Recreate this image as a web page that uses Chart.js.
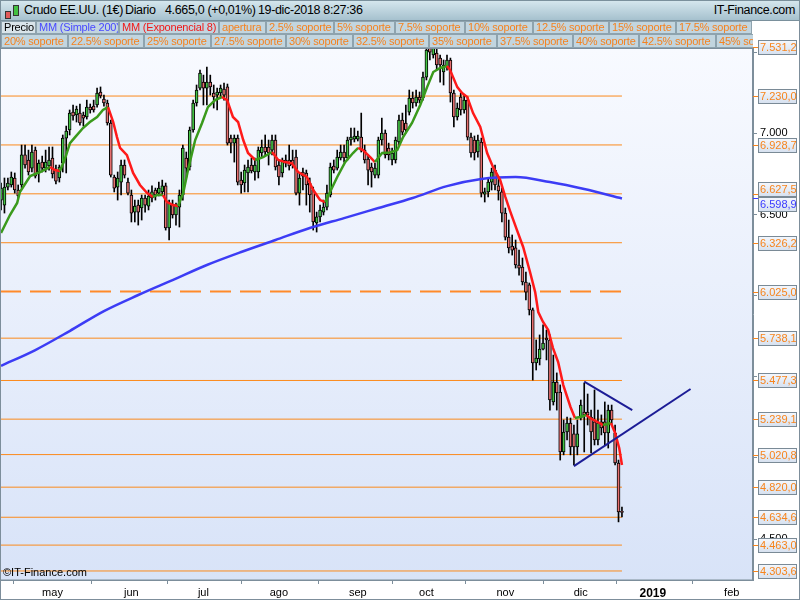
<!DOCTYPE html>
<html>
<head>
<meta charset="utf-8">
<script src="https://cdn.jsdelivr.net/npm/chart.js@4.4.1/dist/chart.umd.min.js"></script>
<style>
body { margin: 0; background: #fff; font-family: "Liberation Sans", Arial, sans-serif; }
#wrap { position: relative; width: 800px; height: 600px; overflow: hidden; }
#chart { position: absolute; left: 0; top: 0; }
#title { position: absolute; left: 0; top: 0; width: 800px; height: 21px; box-sizing: border-box;
  border: 1px solid #7a909c; background: linear-gradient(#d4e6ed, #a6c1ce); font-size: 12.5px; color: #000; }
#title span { position: absolute; top: 2px; white-space: nowrap; letter-spacing: -0.35px; }
.ico i { position: absolute; display: block; box-sizing: border-box; border: 1px solid #333; }
.row { position: absolute; left: 0; width: 753px; overflow: hidden; }
.bx { position: absolute; top: 0; box-sizing: border-box; border: 1px solid #8ea3ae; background: #c2d5df;
  font-size: 11px; padding-left: 2px; white-space: nowrap; overflow: hidden; color: #f5821f; letter-spacing: -0.2px; }
#copy { position: absolute; left: 3px; top: 566px; font-size: 11px; color: #000; }
</style>
</head>
<body>
<div id="wrap">
  <canvas id="chart" width="800" height="600"></canvas>
  <div id="title">
    <span class="ico" style="left:0;top:0">
      <i style="left:4px;top:10px;width:6px;height:8px;background:#e05a5a"></i>
      <i style="left:12px;top:4px;width:6px;height:11px;background:#42c042"></i>
    </span>
    <span style="left:23px">Crudo EE.UU. (1€)</span>
    <span style="left:124px">Diario</span>
    <span style="left:164px">4.665,0 (+0,01%)</span>
    <span style="left:257px">19-dic-2018 8:27:36</span>
    <span style="right:4px">IT-Finance.com</span>
  </div>
  <div class="row" style="top:21px;height:13px">
    <div class="bx" style="left:1px;width:35px;height:13px;line-height:11px;color:#000;background:#d9e4ea">Precio</div>
    <div class="bx" style="left:36px;width:83px;height:13px;line-height:11px;color:#4848ff">MM (Simple 200)</div>
    <div class="bx" style="left:119px;width:100px;height:13px;line-height:11px;color:#f01818">MM (Exponencial 8)</div>
    <div class="bx" style="left:219px;width:47px;height:13px;line-height:11px">apertura</div>
    <div class="bx" style="left:266px;width:68px;height:13px;line-height:11px">2.5% soporte</div>
    <div class="bx" style="left:334px;width:61px;height:13px;line-height:11px">5% soporte</div>
    <div class="bx" style="left:395px;width:70px;height:13px;line-height:11px">7.5% soporte</div>
    <div class="bx" style="left:465px;width:68px;height:13px;line-height:11px">10% soporte</div>
    <div class="bx" style="left:533px;width:76px;height:13px;line-height:11px">12.5% soporte</div>
    <div class="bx" style="left:609px;width:67px;height:13px;line-height:11px">15% soporte</div>
    <div class="bx" style="left:676px;width:76px;height:13px;line-height:11px">17.5% soporte</div>
  </div>
  <div class="row" style="top:34px;height:14px">
    <div class="bx" style="left:1px;width:67px;height:14px;line-height:12px">20% soporte</div>
    <div class="bx" style="left:68px;width:76px;height:14px;line-height:12px">22.5% soporte</div>
    <div class="bx" style="left:144px;width:67px;height:14px;line-height:12px">25% soporte</div>
    <div class="bx" style="left:211px;width:75px;height:14px;line-height:12px">27.5% soporte</div>
    <div class="bx" style="left:286px;width:67px;height:14px;line-height:12px">30% soporte</div>
    <div class="bx" style="left:353px;width:76px;height:14px;line-height:12px">32.5% soporte</div>
    <div class="bx" style="left:429px;width:68px;height:14px;line-height:12px">35% soporte</div>
    <div class="bx" style="left:497px;width:76px;height:14px;line-height:12px">37.5% soporte</div>
    <div class="bx" style="left:573px;width:66px;height:14px;line-height:12px">40% soporte</div>
    <div class="bx" style="left:639px;width:77px;height:14px;line-height:12px">42.5% soporte</div>
    <div class="bx" style="left:716px;width:60px;height:14px;line-height:12px">45% soporte</div>
  </div>
  <div id="copy">©IT-Finance.com</div>
</div>
<script>
// Daily candles, one per weekday, 10-abr-2018 .. 19-dic-2018
var openP = [
  6589,6558,6669,6682,6725,6651,6682,6867,6836,6786, 6897,6762,6823,6786,6799,6848,6774,6725,6817,6971,
  7021,7131,7113,7125,7113,7101,7162,7168,7175,7255, 7212,7187,7064,6731,6669,6700,6805,6700,6620,6515,
  6558,6540,6602,6552,6602,6651,6632,6639,6676,6417, 6558,6497,6546,6620,6848,6793,7021,7187,7279,7316,
  7279,7316,7249,7236,7249,7273,7286,6971,6940,6971, 6712,6694,6756,6805,6762,6762,6879,6916,6916,6897,
  6959,6805,6756,6836,6836,6836,6854,6632,6762,6756, 6694,6651,6448,6485,6515,6546,6620,6799,6786,6848,
  6885,6848,6959,6965,6965,6977,6897,6842,6793,6743, 6743,6959,7002,6910,6836,6836,6947,7082,7064,7131,
  7218,7187,7224,7218,7347,7532,7483,7495,7464,7378, 7409,7452,7249,7101,7224,7144,7205,6977,6959,6885,
  6947,6626,6639,6700,6774,6676,6639,6509,6361,6306, 6294,6189,6176,6084,6066,5912,5585,5610,5671,5739,
  5727,5345,5468,5406,5037,5160,5215,5148,5068,5246, 5283,5283,5252,5222,5111,5222,5222,5154,5295,5154,
  4969,4667
];
var highP = [
  6694,6725,6725,6762,6756,6682,6928,6928,6897,6928, 6916,6836,6860,6897,6916,6916,6805,6805,6990,7045,
  7144,7175,7168,7181,7131,7205,7181,7205,7279,7286, 7236,7205,7082,6743,6762,6836,6836,6725,6651,6589,
  6589,6620,6620,6651,6676,6663,6700,6712,6694,6589, 6589,6571,6651,6928,6885,7039,7205,7298,7390,7359,
  7409,7359,7298,7279,7298,7310,7304,6990,6990,6990, 6762,6805,6836,6848,6848,6916,6959,6990,6959,6990,
  6990,6836,6848,6867,6928,6897,6897,6756,6786,6774, 6725,6669,6515,6558,6589,6682,6817,6836,6897,6928,
  6928,6977,7033,7033,7014,7125,6928,6867,6817,6817, 6977,7094,7021,6940,6910,6977,7113,7125,7175,7267,
  7255,7267,7255,7378,7532,7550,7550,7526,7483,7452, 7483,7464,7267,7187,7249,7236,7224,7002,6984,6990,
  6971,6663,6725,6786,6805,6725,6663,6540,6466,6374, 6343,6281,6232,6146,6078,5924,5727,5758,5820,5788,
  5758,5634,5524,5450,5234,5252,5246,5203,5234,5357, 5462,5394,5295,5419,5295,5265,5345,5326,5326,5203,
  4987,4698
];
var lowP = [
  6528,6509,6651,6669,6632,6595,6663,6786,6743,6762, 6725,6700,6762,6762,6774,6725,6688,6700,6762,6756,
  6990,7082,7070,7051,7045,7088,7125,7131,7162,7218, 7168,7051,6731,6639,6589,6620,6725,6620,6454,6454,
  6435,6466,6515,6528,6577,6589,6614,6620,6404,6343, 6478,6435,6423,6589,6725,6774,7008,7168,7267,7175,
  7175,7236,7156,7144,7224,7205,6928,6879,6823,6682, 6632,6639,6639,6756,6712,6725,6854,6867,6805,6867,
  6774,6682,6731,6793,6774,6786,6620,6558,6651,6558, 6515,6404,6392,6454,6497,6528,6608,6756,6774,6836,
  6823,6836,6928,6947,6953,6885,6817,6682,6669,6725, 6725,6928,6848,6836,6805,6817,6928,6990,7002,7113,
  7156,7168,7187,7205,7329,7452,7464,7390,7316,7298, 7390,7193,7039,7082,7113,7125,6959,6854,6836,6854,
  6608,6577,6608,6651,6651,6589,6454,6343,6263,6250, 6170,6127,6066,5973,5881,5480,5542,5573,5665,5604,
  5295,5326,5295,4987,5019,5111,5019,4957,5019,5234, 5037,5203,5031,5080,5080,5142,5080,5061,5203,4957,
  4606,4636
];
var closeP = [
  6663,6669,6694,6731,6651,6614,6867,6805,6762,6885, 6737,6817,6786,6823,6836,6750,6706,6793,6971,7014,
  7125,7107,7150,7064,7094,7162,7144,7144,7249,7230, 7187,7064,6743,6663,6725,6805,6743,6632,6509,6552,
  6515,6602,6558,6614,6639,6620,6663,6676,6417,6571, 6497,6558,6620,6910,6786,7021,7187,7267,7372,7279,
  7316,7286,7224,7255,7279,7236,6940,6940,6971,6700, 6682,6774,6793,6768,6805,6897,6916,6885,6879,6959,
  6793,6731,6836,6817,6799,6805,6632,6725,6737,6682, 6620,6454,6485,6528,6546,6632,6793,6774,6854,6885,
  6848,6959,6977,6984,6984,6897,6836,6774,6762,6786, 6959,7002,6867,6867,6879,6959,7082,7008,7021,7218,
  7187,7224,7205,7347,7513,7501,7526,7421,7421,7421, 7452,7249,7101,7156,7144,7205,6977,6879,6879,6959,
  6632,6639,6700,6762,6682,6645,6509,6361,6294,6281, 6189,6170,6084,6022,5912,5585,5616,5671,5708,5727,
  5357,5468,5400,5037,5160,5215,5068,5068,5148,5326, 5265,5265,5160,5111,5215,5185,5154,5295,5234,4969,
  4667,4665
];

// MM (Exponencial 8): candle position, value
var emaX = [0,2.6,4.7,5.5,8.5,11.4,14.3,15.7,17.2,18.7, 20.1,21.6,23.9,25.9,28,29.7,31.2,32.7,33.8,34.7,
  36.7,38.5,40.5,42.6,44.3,45.5,47.2,48.4,50.1,51.6, 53.1,54.5,56.6,58.6,60.3,62.4,64.4,65.9,67.6,69.1,
  70.6,72,74.1,76.4,79,80.8,82.8,84.8,86.6,89.2, 91,93,94.5,95.9,98,100.3,102.6,104.1,105.5,107.6,
  109,111.1,113.4,115.5,117.2,119.8,122.2,124.2,126,128, 130,130.9,133,134.4,135.9,137.6,139.7,141.7,143.4,145.5,
  147,148.4,150.4,152.2,154.2,155.7,156.6,158,159.5,160.9, 162.4,163.9,166,167.3,168.8,170.6,171.7,173.8,175.5,176.7,
  177.8,179,180.2,181];
var emaY = [6386,6497,6571,6639,6737,6762,6793,6774,6768,6848, 6940,6977,7033,7070,7101,7144,7162,7070,6977,6910,
  6866,6756,6682,6632,6608,6620,6620,6577,6558,6552, 6632,6774,6959,7064,7162,7205,7224,7205,7101,7070,
  6959,6879,6836,6854,6885,6836,6823,6815,6762,6731, 6651,6589,6577,6639,6731,6823,6879,6910,6897,6854,
  6823,6879,6882,6897,6977,7064,7175,7285,7378,7403, 7415,7390,7285,7248,7224,7125,7039,6879,6793,6712,
  6608,6521,6404,6300,6146,6022,5899,5838,5788,5677, 5591,5449,5314,5246,5252,5265,5246,5222,5203,5209,
  5215,5154,5061,4957];

// MM (Simple 200)
var smaX = [0,10,20,30,40,50,60,70,80,90,100,110,120,130,140,150,160,170,181];
var smaY = [5568,5665,5782,5905,6004,6096,6189,6269,6343,6417,6478,6540,6602,6675,6719,6731,6700,6657,6598.9];

// soporte levels (right-hand labels)
var supportLevels = [7531.2,7230.0,6928.7,6627.5,6326.2,6025.0,5738.1,5477.3,5239.1,5020.8,4820.0,4634.6,4463.0,4303.6];
var dashedLevel = 6025.0;

// triangle drawn on the chart
var triUpperX = [170, 184], triUpperY = [5470, 5295];
var triLowerX = [167, 201], triLowerY = [4950, 5425];

// axis ticks
var xTickValues = [15, 38, 59, 81, 104, 124, 147, 169, 190, 213];
var xTickLabels = ['may', 'jun', 'jul', 'ago', 'sep', 'oct', 'nov', 'dic', '2019', 'feb'];
var yTickValues = [4500, 5000, 5500, 6000, 6500, 7000, 7500];

var FONT = '"Liberation Sans", Arial, sans-serif';
Chart.defaults.font.family = FONT;

function fmt(v, d) {
  var s = v.toFixed(d).split('.');
  var whole = s[0].replace(/\B(?=(\d{3})+(?!\d))/g, '.');
  return d ? whole + ',' + s[1] : whole;
}

var lastIdx = closeP.length - 1;
var xMin = -0.3, xMax = 219.2;

var wickData = closeP.map(function (c, i) { return { x: i, y: [lowP[i], highP[i]] }; });
var bodyData = closeP.map(function (c, i) { return { x: i, y: [openP[i], c] }; });
var emaData = emaX.map(function (x, i) { return { x: x, y: emaY[i] }; });
var smaData = smaX.map(function (x, i) { return { x: x, y: smaY[i] }; });

var datasets = [];
supportLevels.forEach(function (lv) {
  var dashed = lv === dashedLevel;
  datasets.push({
    type: 'line', data: [{ x: xMin, y: lv }, { x: lastIdx, y: lv }],
    borderColor: dashed ? '#ff8a2a' : '#fb8a1c', borderWidth: dashed ? 2 : 1,
    borderDash: dashed ? [21, 9] : [], pointRadius: 0, order: 9
  });
});
datasets.push({
  type: 'bar', data: wickData, backgroundColor: '#000', barThickness: 1,
  grouped: false, order: 4
});
datasets.push({
  type: 'bar', data: bodyData,
  backgroundColor: function (ctx) {
    var i = ctx.dataIndex;
    return closeP[i] >= openP[i] ? '#44c444' : '#e67070';
  },
  borderColor: '#000', borderWidth: 1, borderSkipped: false,
  barThickness: 3, minBarLength: 1, grouped: false, order: 3
});
datasets.push({
  type: 'line', data: smaData, borderColor: '#3c3cf5', borderWidth: 2.5,
  pointRadius: 0, cubicInterpolationMode: 'monotone', order: 2
});
datasets.push({
  type: 'line', data: emaData, borderWidth: 2.5, pointRadius: 0, order: 1,
  borderColor: '#ff1a1a',
  segment: {
    borderColor: function (ctx) { return ctx.p1.parsed.y >= ctx.p0.parsed.y ? '#3a9a1c' : '#ff1a1a'; }
  }
});
datasets.push({
  type: 'line', data: triUpperX.map(function (x, i) { return { x: x, y: triUpperY[i] }; }),
  borderColor: '#1c1c96', borderWidth: 2, pointRadius: 0, order: 0
});
datasets.push({
  type: 'line', data: triLowerX.map(function (x, i) { return { x: x, y: triLowerY[i] }; }),
  borderColor: '#1c1c96', borderWidth: 2, pointRadius: 0, order: 0
});

var frame = {
  id: 'frame',
  beforeDraw: function (chart) {
    var ctx = chart.ctx, a = chart.chartArea;
    ctx.save();
    ctx.fillStyle = '#fff';
    ctx.fillRect(0, 0, chart.width, chart.height);
    var g = ctx.createLinearGradient(0, a.top, 0, a.bottom);
    g.addColorStop(0, '#f8faff');
    g.addColorStop(1, '#d8e3f8');
    ctx.fillStyle = g;
    ctx.fillRect(a.left, a.top, a.right - a.left, a.bottom - a.top);
    ctx.restore();
  },
  afterDraw: function (chart) {
    var ctx = chart.ctx, a = chart.chartArea, ys = chart.scales.y;
    ctx.save();
    ctx.strokeStyle = '#7d8e9b';
    ctx.lineWidth = 1;
    ctx.strokeRect(a.left + 0.5, a.top + 0.5, a.right - a.left - 1, a.bottom - a.top - 0.5);
    ctx.strokeRect(0.5, 0.5, chart.width - 1, chart.height - 1);

    var boxes = supportLevels.map(function (v) {
      return { v: v, c: '#f7841c', py: ys.getPixelForValue(v) };
    });
    boxes.push({ v: smaY[smaY.length - 1], c: '#3a3aff', py: ys.getPixelForValue(smaY[smaY.length - 1]) });
    boxes.sort(function (p, q) { return p.py - q.py; });
    boxes.forEach(function (b) { b.by = b.py; });
    for (var k = 1; k < boxes.length; k++) {
      var d = boxes[k].by - boxes[k - 1].by;
      if (d < 15) {
        boxes[k - 1].by -= (15 - d) / 2;
        boxes[k].by += (15 - d) / 2;
      }
    }
    boxes.forEach(function (b) {
      var py = Math.round(b.py) + 0.5;
      ctx.strokeStyle = b.c;
      ctx.beginPath();
      ctx.moveTo(a.right, py);
      ctx.lineTo(a.right + 5, py);
      ctx.stroke();
      var bx = a.right + 5, bw = 39, bh = 15, top = Math.round(b.by) - 7;
      var g = ctx.createLinearGradient(0, top, 0, top + bh);
      g.addColorStop(0, '#f5f8fd');
      g.addColorStop(1, '#d5e0ef');
      ctx.fillStyle = g;
      ctx.fillRect(bx, top, bw, bh);
      ctx.strokeStyle = '#7a8a96';
      ctx.strokeRect(bx + 0.5, top + 0.5, bw - 1, bh - 1);
      ctx.fillStyle = b.c;
      ctx.font = '11px ' + FONT;
      ctx.textBaseline = 'middle';
      ctx.fillText(fmt(b.v, 1), bx + 2, top + bh / 2 + 0.5);
    });
    ctx.restore();
  }
};

// a black price tick is left out when a soporte label sits on it
function nearLevel(v) {
  return supportLevels.some(function (lv) { return Math.abs(lv - v) < 24; });
}

new Chart(document.getElementById('chart'), {
  type: 'bar',
  data: { datasets: datasets },
  plugins: [frame],
  options: {
    responsive: false,
    animation: false,
    layout: { padding: { top: 48, left: 0, right: 0, bottom: 0 } },
    plugins: { legend: { display: false }, tooltip: { enabled: false } },
    scales: {
      x: {
        type: 'linear', min: xMin, max: xMax, offset: false,
        afterBuildTicks: function (s) { s.ticks = xTickValues.map(function (v) { return { value: v }; }); },
        afterFit: function (s) { s.height = 20; },
        ticks: {
          autoSkip: false, maxRotation: 0, color: '#000', padding: 2,
          callback: function (v) { return xTickLabels[xTickValues.indexOf(v)]; },
          font: function (ctx) {
            var bold = ctx.tick && ctx.tick.value === 190;
            return { size: bold ? 12 : 11, weight: bold ? 'bold' : 'normal', family: FONT };
          }
        },
        grid: { drawOnChartArea: false, tickLength: 4, color: '#7d8e9b' },
        border: { color: '#7d8e9b' }
      },
      y: {
        position: 'right', min: 4248, max: 7526,
        afterBuildTicks: function (s) { s.ticks = yTickValues.map(function (v) { return { value: v }; }); },
        afterFit: function (s) { s.width = 47; },
        ticks: {
          color: '#000', padding: 3, font: { size: 11, family: FONT },
          callback: function (v) { return nearLevel(v) ? '' : fmt(v, 0); }
        },
        grid: { drawOnChartArea: false, tickLength: 4, color: '#7d8e9b' },
        border: { color: '#7d8e9b' }
      }
    }
  }
});
</script>
</body>
</html>
